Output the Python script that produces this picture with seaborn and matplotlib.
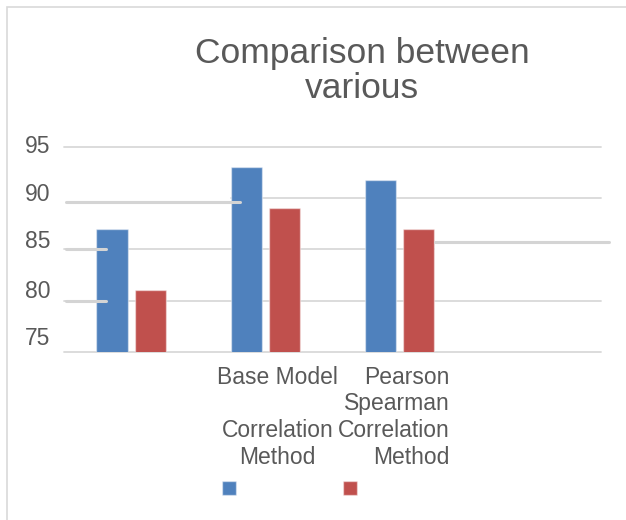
import matplotlib
matplotlib.use("Agg")
import matplotlib.pyplot as plt
import matplotlib.transforms as mtransforms
from matplotlib.patches import Patch, Rectangle
import numpy as np
import pandas as pd
import seaborn as sns

# Values per group for the two series
group_keys = ["g1", "g2", "g3"]
series_names = ["Series1", "Series2"]
series1_values = [87.0, 93.0, 91.8]
series2_values = [81.0, 89.0, 87.0]
x_tick_labels = ["", "Base Model\n\nCorrelation\nMethod", "Pearson\nSpearman\nCorrelation\nMethod"]
y_ticks = [75, 80, 85, 90, 95]
title_text = "Comparison between\nvarious"

colors = ["#4F81BD", "#C0504D"]
text_gray = "#595959"
grid_gray = "#d9d9d9"

sns.set_theme(style="white")
plt.rcParams["font.family"] = ["Liberation Sans", "DejaVu Sans"]

df = pd.DataFrame({
    "group": group_keys * 2,
    "series": [series_names[0]] * 3 + [series_names[1]] * 3,
    "value": series1_values + series2_values,
})

W, H = 626, 520
fig = plt.figure(figsize=(W / 100, H / 100), dpi=100)
fig.patch.set_facecolor("white")

# outer frame (left and top edges visible)
fig.patches.append(Rectangle((7 / W, -0.1), 1.2, (H - 7) / H + 0.1,
                             transform=fig.transFigure, fill=False,
                             edgecolor="#d9d9d9", linewidth=1.2))

left, right = 64 / W, 601 / W
bottom, top = 1 - 352 / H, 1 - 147 / H
ax = fig.add_axes([left, bottom, right - left, top - bottom])

sns.barplot(data=df, x="group", y="value", hue="series", order=group_keys,
            hue_order=series_names, palette=colors, saturation=1,
            width=0.57, gap=0.18,
            edgecolor=(1, 1, 1, 0.45), linewidth=1.0, ax=ax, zorder=2,
            legend=False)

ax.set_xlim(-0.5, 3.5)
ax.set_ylim(75, 95)
for s in ax.spines.values():
    s.set_visible(False)
ax.set_xlabel("")
ax.set_ylabel("")
ax.grid(False)

# horizontal gridlines
gl = dict(color=grid_gray, linewidth=1.3, zorder=1, clip_on=False)
ax.axhline(95, 0, 1, **gl)
ax.axhline(90, (231 - 64) / 537, 1, **gl)
ax.axhline(85, 0, (434 - 64) / 537, **gl)
ax.axhline(80, 0, 1, **gl)
ax.axhline(75, 0, 1, **gl)
# displaced gridline fragments
fr = dict(color="#d4d4d4", linewidth=2.2, zorder=3, clip_on=False)
ax.axhline(89.67, 2 / 537, (240 - 64) / 537, **fr)
ax.axhline(85, 2 / 537, (106 - 64) / 537, **fr)
ax.axhline(80, 2 / 537, (106 - 64) / 537, **fr)
ax.axhline(85.76, (435 - 64) / 537, (609 - 64) / 537, **fr)

# y tick labels
ax.set_yticks(y_ticks)
ax.set_yticklabels([str(v) for v in y_ticks], fontsize=16.5, color=text_gray)
ax.tick_params(axis="y", length=0, pad=10)
y_shift = {75: 16, 80: 12, 85: 10, 90: 6.5, 95: 3}
for v, lab in zip(y_ticks, ax.get_yticklabels()):
    lab.set_transform(lab.get_transform() +
                      mtransforms.ScaledTranslation(0, y_shift[v] / 100, fig.dpi_scale_trans))

# x tick labels
ax.set_xticks([0, 1, 2])
ax.set_xticklabels(x_tick_labels, fontsize=16.5, color=text_gray, linespacing=1.2)
ax.tick_params(axis="x", length=0, pad=10)
xl = ax.get_xticklabels()
xl[1].set_transform(xl[1].get_transform() +
                    mtransforms.ScaledTranslation(12 / 100, 0, fig.dpi_scale_trans))
xl[2].set_horizontalalignment("right")
xl[2].set_multialignment("right")
xl[2].set_transform(xl[2].get_transform() +
                    mtransforms.ScaledTranslation(50 / 100, 0, fig.dpi_scale_trans))

# title
fig.text(362 / W, 1 - 37 / H, title_text, ha="center", va="top",
         fontsize=25.5, color=text_gray, linespacing=1.06)

# legend with unlabeled swatches
handles = [Patch(facecolor=c, edgecolor=(1, 1, 1, 0.45)) for c in colors]
fig.legend(handles, ["", ""], ncol=2, frameon=False, loc="upper left",
           bbox_to_anchor=(222 / W, 1 - 478 / H), fontsize=16.5,
           handlelength=0.6, handleheight=0.6, handletextpad=0,
           columnspacing=4.7, borderpad=0, borderaxespad=0)

fig.savefig("out.png", dpi=100, facecolor="white")
